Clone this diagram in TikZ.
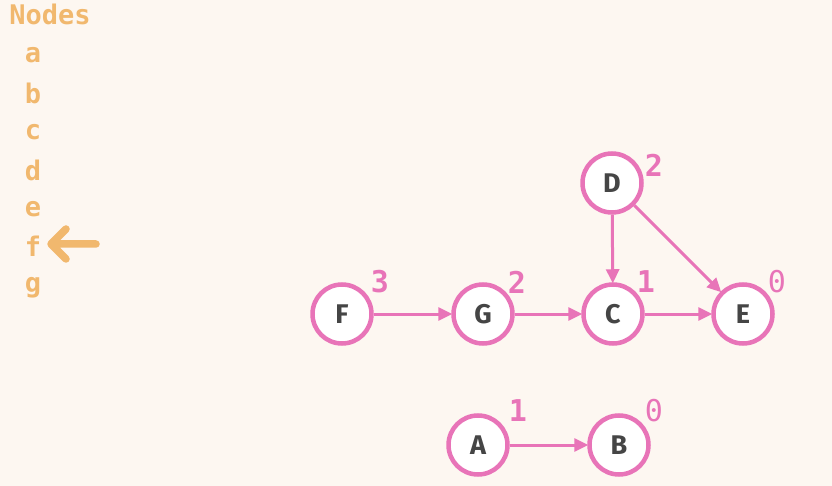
\documentclass[tikz,border=0pt]{standalone}
\usepackage{fontspec}
\setmainfont{Fira Sans}
\newfontfamily\monofnt{DejaVu Sans Mono}
\usetikzlibrary{arrows.meta}
\definecolor{bg}{HTML}{FDF7F1}
\definecolor{org}{HTML}{F1B86E}
\definecolor{pnk}{HTML}{E874B8}
\definecolor{txt}{HTML}{454545}
\tikzset{
  vtx/.style={circle, draw=pnk, line width=4.5pt, fill=white, minimum size=59pt, inner sep=0pt,
    font=\bfseries\fontsize{27}{27}\selectfont, text=txt},
  cnt/.style={font=\monofnt\bfseries\fontsize{30}{30}\selectfont, text=pnk, inner sep=0pt},
  zro/.style={font=\monofnt\fontsize{30}{30}\selectfont, text=pnk, inner sep=0pt},
  lst/.style={font=\monofnt\bfseries\fontsize{27}{27}\selectfont, text=org, inner sep=0pt},
  edge/.style={draw=pnk, line width=3pt, -{Triangle[length=14pt,width=13pt]}, shorten >=-1pt},
}
\begin{document}
\begin{tikzpicture}[x=1pt,y=-1pt]
\fill[bg] (0,0) rectangle (832,486);
\useasboundingbox (0,0) rectangle (832,486);
% list
\node[lst] (title) at (50,14) {Nodes};
\node[lst] (la) at (33,55) {a};
\node[lst] (lb) at (33,93) {b};
\node[lst] (lc) at (33,132) {c};
\node[lst] (ld) at (33,170) {d};
\node[lst] (le) at (33,209) {e};
\node[lst] (lf) at (33,246) {f};
\node[lst] (lg) at (33,288) {g};
\coordinate (ptip) at (51,244);
\coordinate (ptail) at (96,244);
\coordinate (pup) at (66,229);
\coordinate (pdn) at (66,259);
\draw[org, line width=7.5pt, line cap=round, line join=round] (ptail) -- (ptip) (pup) -- (ptip) -- (pdn);
% vertices
\node[vtx] (D) at (612,183) {D};
\node[vtx] (C) at (613,314) {C};
\node[vtx] (E) at (743,314) {E};
\node[vtx] (F) at (342,314) {F};
\node[vtx] (G) at (483,314) {G};
\node[vtx] (A) at (478,445) {A};
\node[vtx] (B) at (619,445) {B};
% counts
\node[cnt] (nD) at (654,165) {2};
\node[cnt] (nC) at (646,282) {1};
\node[zro] (nE) at (777,282) {0};
\node[cnt] (nF) at (380,282) {3};
\node[cnt] (nG) at (517,282) {2};
\node[cnt] (nA) at (518,411) {1};
\node[zro] (nB) at (654,411) {0};
% edges
\draw[edge] (F) -- (G);
\draw[edge] (G) -- (C);
\draw[edge] (C) -- (E);
\draw[edge] (D) -- (C);
\draw[edge] (D) -- (E);
\draw[edge] (A) -- (B);
\end{tikzpicture}
\end{document}
